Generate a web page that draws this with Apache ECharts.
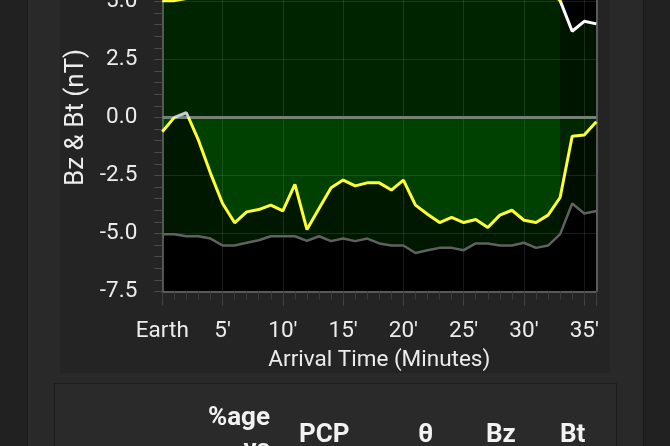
<!DOCTYPE html>
<html><head><meta charset="utf-8">
<script src="https://cdn.jsdelivr.net/npm/echarts@6/dist/echarts.min.js"></script>
<style>
html,body{margin:0;padding:0;width:670px;height:446px;overflow:hidden;background:#212121;font-family:Roboto,sans-serif;}
#panel{position:absolute;left:27px;top:0;width:615px;height:446px;background:#292929;border-left:1px solid #1b1b1b;border-right:1px solid #1b1b1b;}
#card{position:absolute;left:60px;top:0;width:550px;height:373px;background:#242424;}
#table{position:absolute;left:54px;top:383px;width:561px;height:80px;background:#2a2a2a;border:1px solid #1c1c1c;}
#chart{position:absolute;left:0;top:0;width:670px;height:446px;}
.th{position:absolute;color:#f2f2f2;font-family:Roboto,sans-serif;font-weight:700;font-size:26px;line-height:26px;white-space:nowrap;z-index:5;}
</style></head>
<body>
<div id="panel"></div>
<div id="card"></div>
<div id="table"></div>
<div id="chart"></div>
<div class="th" style="right:400px;top:400px;line-height:32px;text-align:right;">%age<br>vs</div>
<div class="th" style="left:299px;top:420px;">PCP</div>
<div class="th" style="left:418px;top:420px;">θ</div>
<div class="th" style="left:486px;top:420px;">Bz</div>
<div class="th" style="left:560px;top:420px;">Bt</div>
<script>
// Arrival time in minutes (0 = Earth)
const minutes = [0,1,2,3,4,5,6,7,8,9,10,11,12,13,14,15,16,17,18,19,20,21,22,23,24,25,26,27,28,29,30,31,32,33,34,35,36];
// Bz (nT)
const bz = [-0.62,0.0,0.2,-0.98,-2.41,-3.71,-4.54,-4.07,-3.97,-3.78,-4.03,-2.89,-4.83,-3.92,-3.03,-2.70,-2.95,-2.82,-2.82,-3.13,-2.70,-3.78,-4.17,-4.53,-4.31,-4.53,-4.40,-4.74,-4.21,-4.00,-4.43,-4.53,-4.21,-3.45,-0.81,-0.76,-0.19];
// Bt (nT), drawn as +Bt and -Bt envelope
const bt = [5.03,5.03,5.12,5.12,5.22,5.52,5.52,5.40,5.29,5.12,5.12,5.12,5.32,5.12,5.33,5.22,5.33,5.22,5.43,5.52,5.52,5.84,5.72,5.62,5.62,5.72,5.43,5.43,5.52,5.52,5.40,5.62,5.52,5.03,3.71,4.14,4.03];
// x tick labels every 5 minutes
const xTickLabels = ['Earth',"5'","10'","15'","20'","25'","30'","35'"];

const bzData = minutes.map((m,i)=>[m,bz[i]]);
const btData = minutes.map((m,i)=>[m,bt[i]]);
const negBtData = minutes.map((m,i)=>[m,-bt[i]]);

const FONT = 'Roboto';
const LBL = '#ececec';

const chart = echarts.init(document.getElementById('chart'), null, {renderer:'canvas'});
chart.setOption({
  animation:false,
  backgroundColor:'transparent',
  grid:{left:162.3, right:73.7, top:-56.7, bottom:154.5, show:true, backgroundColor:'#000', borderWidth:0, outerBoundsMode:'none', containLabel:false},
  xAxis:[{
    type:'value', min:0, max:36, interval:5, position:'bottom', z:3,
    axisLine:{show:true, onZero:false, lineStyle:{color:'#6b6b6b', width:1.5}},
    axisTick:{show:true, length:14, lineStyle:{color:'#444'}},
    axisLabel:{color:LBL, fontSize:22.5, fontFamily:FONT, margin:28,
      formatter:v=> (v%5===0 && v/5 < xTickLabels.length) ? xTickLabels[v/5] : ''},
    splitLine:{show:true, lineStyle:{color:'rgba(255,255,255,0.1)', width:1}},
    name:'Arrival Time (Minutes)', nameLocation:'middle', nameGap:57, nameMoveOverlap:false,
    nameTextStyle:{color:LBL, fontSize:22.5, fontFamily:FONT}
  },{
    type:'value', min:0, max:36, interval:1, position:'bottom', z:3,
    axisLine:{show:false, onZero:false}, axisLabel:{show:false}, splitLine:{show:false},
    axisTick:{show:true, length:8, lineStyle:{color:'#3c3c3c'}}
  }],
  yAxis:[{
    type:'value', min:-7.5, max:7.5, interval:2.5, position:'left', z:3,
    axisLine:{show:true, onZero:false, lineStyle:{color:'#6b6b6b', width:1.5}},
    axisTick:{show:true, length:8, lineStyle:{color:'#4a4a4a'}},
    minorTick:{show:true, splitNumber:5, length:8, lineStyle:{color:'#4a4a4a'}},
    axisLabel:{color:LBL, fontSize:22.5, fontFamily:FONT, margin:25, formatter:v=>v.toFixed(1)},
    splitLine:{show:true, lineStyle:{color:'rgba(255,255,255,0.1)', width:1}},
    name:'Bz & Bt (nT)', nameLocation:'middle', nameGap:73, nameMoveOverlap:false,
    nameTextStyle:{color:LBL, fontSize:26, fontFamily:FONT}
  },{
    type:'value', min:-7.5, max:7.5, interval:2.5, position:'right', z:3,
    axisLine:{show:true, onZero:false, lineStyle:{color:'#6b6b6b', width:1.5}},
    axisTick:{show:false}, axisLabel:{show:false}, splitLine:{show:false}
  }],
  visualMap:[
    {type:'piecewise', show:false, seriesIndex:0, dimension:0, pieces:[{min:-10, max:33, color:'#002400'},{min:33, max:50, color:'#001500'}]},
    {type:'piecewise', show:false, seriesIndex:1, dimension:0, pieces:[{min:-10, max:33, color:'#001800'},{min:33, max:50, color:'#000e00'}]},
    {type:'piecewise', show:false, seriesIndex:2, dimension:0, pieces:[{min:-10, max:33, color:'#004000'},{min:33, max:50, color:'#002700'}]},
    {type:'piecewise', show:false, seriesIndex:3, dimension:1, pieces:[{min:-20, max:5, color:'#ffffff'},{min:5, max:20, color:'#ffff33'}]},
    {type:'piecewise', show:false, seriesIndex:5, dimension:1, pieces:[{min:-20, max:0, color:'#ffff33'},{min:0, max:20, color:'#c4cccc'}]}
  ],
  series:[
    {name:'btArea', type:'line', data:btData, symbol:'none', z:1, silent:true,
     lineStyle:{width:0, opacity:0}, areaStyle:{opacity:1, origin:'auto'}},
    {name:'negBtArea', type:'line', data:negBtData, symbol:'none', z:1, silent:true,
     lineStyle:{width:0, opacity:0}, areaStyle:{opacity:1, origin:'auto'}},
    {name:'bzArea', type:'line', data:bzData, symbol:'none', z:1, silent:true,
     lineStyle:{width:0, opacity:0}, areaStyle:{opacity:1, origin:'auto'},
     markLine:{silent:true, symbol:'none', label:{show:false}, lineStyle:{color:'#738273', width:3, type:'solid'}, data:[{yAxis:0}]}},
    {name:'Bt', type:'line', data:btData, symbol:'none', z:5, lineStyle:{width:3}},
    {name:'-Bt', type:'line', data:negBtData, symbol:'none', z:5, lineStyle:{width:2.5, color:'#606060'}, itemStyle:{color:'#606060'}},
    {name:'Bz', type:'line', data:bzData, symbol:'none', z:6, lineStyle:{width:3}}
  ]
});
</script>
</body></html>
